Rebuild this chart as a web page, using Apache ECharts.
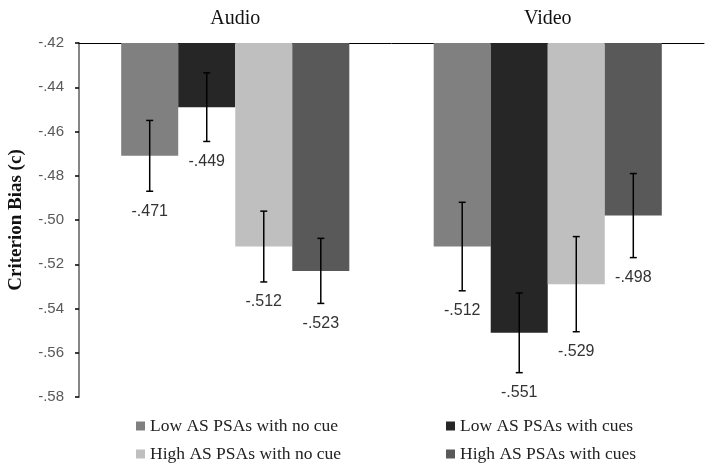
<!DOCTYPE html>
<html>
<head>
<meta charset="utf-8">
<script src="https://cdn.jsdelivr.net/npm/echarts@6/dist/echarts.min.js"></script>
<style>
html,body{margin:0;padding:0;background:#fff;}
#chart{width:714px;height:469px;}
</style>
</head>
<body>
<div id="chart"></div>
<script>
// ---- data ----
const categories = ['Audio', 'Video'];
const seriesNames = ['Low AS PSAs with no cue', 'Low AS PSAs with cues', 'High AS PSAs with no cue', 'High AS PSAs with cues'];
const lowNoCue = [-0.471, -0.512];
const lowCues = [-0.449, -0.551];
const highNoCue = [-0.512, -0.529];
const highCues = [-0.523, -0.498];
const lowNoCueErr = [0.016, 0.020];
const lowCuesErr = [0.0155, 0.018];
const highNoCueErr = [0.016, 0.0215];
const highCuesErr = [0.0147, 0.019];
const yMin = -0.58, yMax = -0.42, yStep = 0.02;

const values = [lowNoCue, lowCues, highNoCue, highCues];
const errs = [lowNoCueErr, lowCuesErr, highNoCueErr, highCuesErr];
const colors = ['#808080', '#262626', '#bfbfbf', '#595959'];
const catGap = 0.27;

const chart = echarts.init(document.getElementById('chart'), null, {renderer: 'canvas'});

function fmt(v, d) { return v.toFixed(d).replace('0.', '.'); }

const barSeries = values.map((vals, i) => ({
  name: seriesNames[i],
  type: 'bar',
  data: vals,
  clip: true,
  barGap: '0%',
  barCategoryGap: (catGap * 100) + '%',
  itemStyle: {color: colors[i]},
  emphasis: {disabled: true},
  z: 2
}));

const errSeries = values.map((vals, i) => ({
  type: 'custom',
  name: 'err' + i,
  data: vals.map((v, c) => [c, v, v - errs[i][c], v + errs[i][c]]),
  z: 5,
  silent: true,
  clip: false,
  renderItem: function (params, api) {
    const c = api.value(0);
    const band = api.size([1, 0])[0];
    const bw = band * (1 - catGap) / 4;
    const center = api.coord([c, api.value(1)]);
    const x = center[0] + (i - 1.5) * bw;
    const yLo = api.coord([c, api.value(2)])[1];
    const yHi = api.coord([c, api.value(3)])[1];
    const cap = 3.5;
    const st = {stroke: '#000', lineWidth: 1.5};
    return {
      type: 'group',
      children: [
        {type: 'line', shape: {x1: x, y1: yHi, x2: x, y2: yLo}, style: st},
        {type: 'line', shape: {x1: x - cap, y1: yHi, x2: x + cap, y2: yHi}, style: st},
        {type: 'line', shape: {x1: x - cap, y1: yLo, x2: x + cap, y2: yLo}, style: st},
        {type: 'text', style: {
          text: fmt(api.value(1), 3), x: x, y: yLo + 20,
          align: 'center', verticalAlign: 'middle',
          font: '16px "Liberation Sans", sans-serif', fill: '#333'
        }}
      ]
    };
  }
}));

const legendCommon = {
  orient: 'vertical',
  icon: 'rect',
  itemWidth: 9,
  itemHeight: 9,
  itemGap: 10,
  padding: 0,
  height: 50,
  selectedMode: false,
  textStyle: {fontFamily: '"Liberation Serif", serif', fontSize: 17.5, color: '#222', lineHeight: 17}
};

chart.setOption({
  animation: false,
  backgroundColor: '#fff',
  grid: {left: 79, right: 10, top: 43, bottom: 72, containLabel: false, outerBoundsMode: 'none'},
  legend: [
    Object.assign({}, legendCommon, {left: 136, top: 417, data: [seriesNames[0], seriesNames[2]]}),
    Object.assign({}, legendCommon, {left: 446, top: 417, data: [seriesNames[1], seriesNames[3]]})
  ],
  xAxis: {
    type: 'category',
    data: categories,
    position: 'top',
    axisLine: {lineStyle: {color: '#000', width: 1}},
    axisTick: {inside: true, length: 5, lineStyle: {color: '#000'}},
    axisLabel: {margin: 14, fontFamily: '"Liberation Serif", serif', fontSize: 20, color: '#111'}
  },
  yAxis: {
    type: 'value',
    min: yMin, max: yMax, interval: yStep,
    name: 'Criterion Bias (c)',
    nameLocation: 'middle',
    nameGap: 53,
    nameRotate: 90,
    nameTextStyle: {fontFamily: '"Liberation Serif", serif', fontSize: 19, fontWeight: 'bold', color: '#111'},
    axisLine: {show: true, lineStyle: {color: '#868686', width: 2}},
    axisTick: {show: true, length: 4, lineStyle: {color: '#000', width: 1.5}},
    splitLine: {show: false},
    axisLabel: {margin: 15, fontFamily: '"Liberation Sans", sans-serif', fontSize: 15, color: '#595959',
      formatter: v => fmt(v, 2)}
  },
  series: barSeries.concat(errSeries)
});
</script>
</body>
</html>
